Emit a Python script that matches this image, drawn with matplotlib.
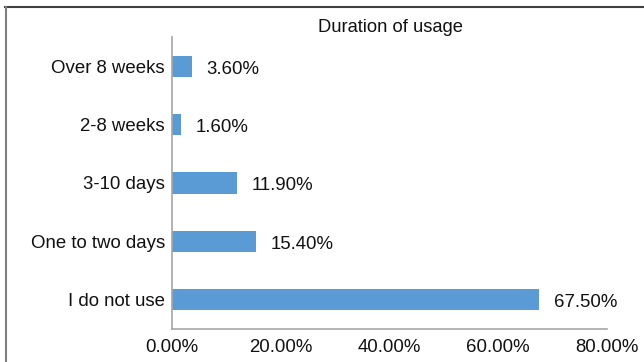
import matplotlib
matplotlib.use("Agg")
from matplotlib import pyplot as plt
from matplotlib.lines import Line2D
from matplotlib.ticker import FuncFormatter

categories = ["I do not use", "One to two days", "3-10 days", "2-8 weeks", "Over 8 weeks"]
shares = [67.5, 15.4, 11.9, 1.6, 3.6]
x_ticks = [0, 20, 40, 60, 80]

plt.rcParams["font.family"] = ["Liberation Sans", "DejaVu Sans"]

fig = plt.figure(figsize=(6.44, 3.62), dpi=100)
ax = fig.add_axes([172 / 644, 33 / 362, 435 / 644, 292 / 362])

ax.barh(range(len(categories)), shares, height=0.36, color="#5B9BD5")

# value labels to the right of each bar
for i, v in enumerate(shares):
    ax.annotate("{:.2f}%".format(v), xy=(v, i), xytext=(15, -3),
                textcoords="offset pixels", ha="left", va="center",
                fontsize=13.4, color="#111111")

ax.set_xlim(0, 80)
ax.set_ylim(-0.5, len(categories) - 0.5)
ax.set_xticks(x_ticks)
ax.xaxis.set_major_formatter(FuncFormatter(lambda x, pos: "{:.2f}%".format(x)))
ax.set_yticks(range(len(categories)))
ax.set_yticklabels(categories)
ax.tick_params(axis="both", length=0, labelsize=13.4, colors="#111111")
ax.tick_params(axis="x", pad=7)
ax.tick_params(axis="y", pad=5)

for side in ["top", "right"]:
    ax.spines[side].set_visible(False)
for side in ["left", "bottom"]:
    ax.spines[side].set_color("#A6A6A6")
    ax.spines[side].set_linewidth(1.2)

fig.text(390 / 644, 1 - 27 / 362, "Duration of usage", ha="center", va="center",
         fontsize=13.2, color="#111111")

# outer chart frame (top and left edges)
fig.add_artist(Line2D([5 / 644, 1], [1 - 7 / 362, 1 - 7 / 362], transform=fig.transFigure,
                      color="#404040", linewidth=1.5))
fig.add_artist(Line2D([6 / 644, 6 / 644], [0, 1 - 7 / 362], transform=fig.transFigure,
                      color="#808080", linewidth=1.5))

fig.savefig("out.png", dpi=100)
